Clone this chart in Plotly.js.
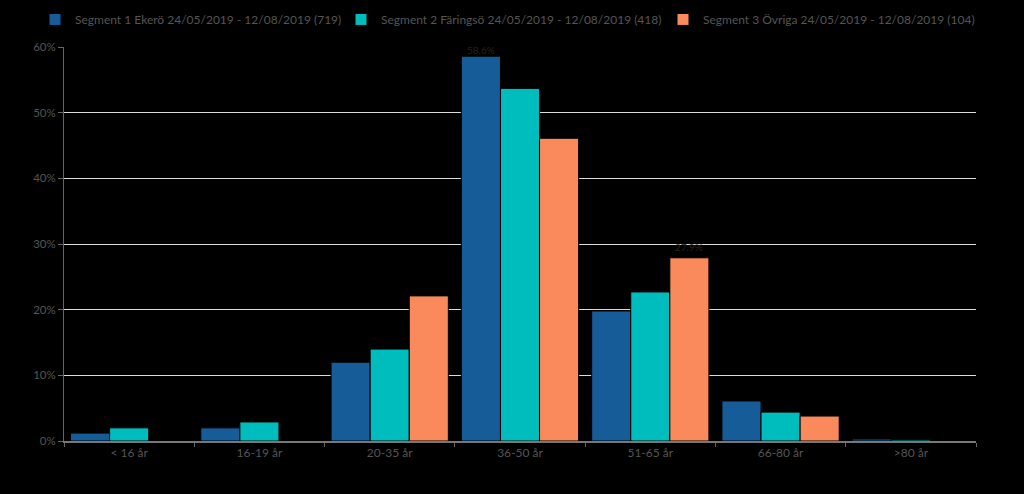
<!DOCTYPE html>
<html>
<head>
<meta charset="utf-8">
<script src="https://cdn.plot.ly/plotly-3.0.1.min.js"></script>
<style>html,body{margin:0;padding:0;background:#000;}#chart{width:1024px;height:494px;}</style>
</head>
<body>
<div id="chart"></div>
<script>
const categories = ["< 16 år", "16-19 år", "20-35 år", "36-50 år", "51-65 år", "66-80 år", ">80 år"];
const seriesNames = [
  "Segment 1 Ekerö 24/05/2019 - 12/08/2019 (719)",
  "Segment 2 Färingsö 24/05/2019 - 12/08/2019 (418)",
  "Segment 3 Övriga 24/05/2019 - 12/08/2019 (104)"
];
const segment1 = [1.2, 2.0, 12.0, 58.6, 19.8, 6.1, 0.3];
const segment2 = [2.0, 2.9, 14.0, 53.7, 22.7, 4.4, 0.2];
const segment3 = [0, 0, 22.1, 46.1, 27.9, 3.8, 0];
const colors = ["#155c99", "#00bdbd", "#fa8a5b"];
const yTicks = [0, 10, 20, 30, 40, 50, 60];

const font = "Lato, Open Sans, sans-serif";
const seriesValues = [segment1, segment2, segment3];
const legendIds = ["legend", "legend2", "legend3"];
const legendX = [35, 341, 663];
const traces = seriesValues.map((vals, i) => ({
  type: "bar",
  name: seriesNames[i],
  x: categories,
  y: vals,
  legend: legendIds[i],
  marker: {color: colors[i], line: {color: "#000", width: 1}},
  hoverinfo: "x+y+name"
}));

const legendBase = (px) => ({
  orientation: "h", xref: "container", yref: "container",
  x: px / 1024, xanchor: "left", y: 0.99, yanchor: "top",
  bgcolor: "rgba(0,0,0,0)", borderwidth: 0,
  font: {family: font, size: 12, color: "#555"}, itemwidth: 30
});

const layout = {
  width: 1024, height: 494,
  paper_bgcolor: "#000", plot_bgcolor: "#000",
  margin: {l: 64, r: 48, t: 47, b: 53},
  font: {family: font, color: "#555", size: 11},
  barmode: "group", bargap: 0.1, bargroupgap: 0,
  showlegend: true,
  legend: legendBase(legendX[0]),
  legend2: legendBase(legendX[1]),
  legend3: legendBase(legendX[2]),
  xaxis: {
    type: "category", tickson: "boundaries", ticks: "outside", ticklen: 4, tickcolor: "#666",
    showline: true, linecolor: "#777", linewidth: 1.5, showgrid: false,
    tickfont: {family: font, size: 12, color: "#555"}
  },
  yaxis: {
    range: [0, 60], tickvals: yTicks, ticktext: yTicks.map(v => v + "%"),
    showgrid: true, gridcolor: "#dcdcdc", gridwidth: 1, zeroline: false,
    showline: true, linecolor: "#666", linewidth: 1,
    ticks: "outside", ticklen: 5, tickcolor: "#666",
    tickfont: {family: font, size: 11.5, color: "#555"}
  },
  annotations: [
    {x: categories[3], y: segment1[3], xref: "x", yref: "y", text: segment1[3].toFixed(1) + "%", showarrow: false,
     xshift: -39, yanchor: "bottom", yshift: -2, font: {family: font, size: 10, color: "#222"}},
    {x: categories[4], y: segment3[4], xref: "x", yref: "y", text: segment3[4].toFixed(1) + "%", showarrow: false,
     xshift: 39, yanchor: "bottom", yshift: 3, font: {family: font, size: 10, color: "#222"}}
  ]
};

Plotly.newPlot("chart", traces, layout, {displayModeBar: false, staticPlot: true});
</script>
</body>
</html>
